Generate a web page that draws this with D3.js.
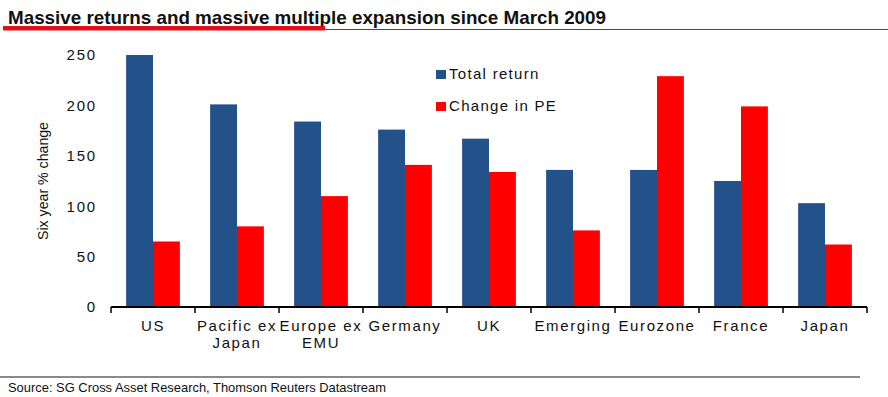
<!DOCTYPE html>
<html>
<head>
<meta charset="utf-8">
<script src="https://cdn.jsdelivr.net/npm/d3@7"></script>
<style>
  body { margin: 0; background: #fff; }
  svg text { font-family: "Liberation Sans", Arial, sans-serif; fill: #111; }
</style>
</head>
<body>
<div id="chart"></div>
<script>
// chart data
const categories = ["US", "Pacific ex\nJapan", "Europe ex\nEMU", "Germany", "UK", "Emerging", "Eurozone", "France", "Japan"];
const seriesNames = ["Total return", "Change in PE"];
const totalReturn = [250, 201, 184, 176, 167, 136, 136, 125, 103];
const changeInPE = [65, 80, 110, 141, 134, 76, 229, 199, 62];
const yTicks = [0, 50, 100, 150, 200, 250];
const colors = ["#23518a", "#ff0000"];

const width = 888, height = 397;
const margin = {top: 55, right: 21, bottom: 90, left: 111};

const svg = d3.select("#chart").append("svg")
    .attr("width", width)
    .attr("height", height);

// title + red rule
svg.append("text")
    .attr("x", 8).attr("y", 24)
    .attr("font-size", 19)
    .attr("font-weight", "bold")
    .attr("textLength", 598)
    .attr("lengthAdjust", "spacingAndGlyphs")
    .style("font-family", "'Liberation Sans Narrow', 'Liberation Sans', sans-serif")
    .text("Massive returns and massive multiple expansion since March 2009");

svg.append("line")
    .attr("x1", 325).attr("x2", 888).attr("y1", 29.5).attr("y2", 29.5)
    .attr("stroke", "#c8101a").attr("stroke-width", 1);
svg.append("rect")
    .attr("x", 3).attr("y", 26).attr("width", 322).attr("height", 4.5)
    .attr("fill", "#e0101a");

// scales
const x0 = d3.scaleBand()
    .domain(categories)
    .range([margin.left, width - margin.right]);

const x1 = d3.scaleBand()
    .domain(seriesNames)
    .range([x0.bandwidth() * 0.18, x0.bandwidth() * 0.82]);

const y = d3.scaleLinear()
    .domain([0, 250])
    .range([height - margin.bottom, margin.top]);

const rows = categories.map((c, i) => ({cat: c, values: [totalReturn[i], changeInPE[i]]}));

// bars
const groups = svg.append("g").selectAll("g")
    .data(rows)
    .join("g")
    .attr("transform", d => `translate(${x0(d.cat)},0)`);

groups.selectAll("rect")
    .data(d => d.values.map((v, k) => ({key: seriesNames[k], value: v, k: k})))
    .join("rect")
    .attr("x", d => x1(d.key))
    .attr("width", x1.bandwidth())
    .attr("y", d => y(d.value))
    .attr("height", d => y(0) - y(d.value))
    .attr("fill", d => colors[d.k]);

// y axis labels (no axis line)
const yAxis = svg.append("g")
    .attr("transform", `translate(${margin.left - 8},0)`)
    .call(d3.axisLeft(y).tickValues(yTicks).tickSize(0).tickPadding(6));
yAxis.select(".domain").remove();
yAxis.selectAll("text")
    .attr("font-size", 15)
    .style("letter-spacing", "1.8px")
    .style("font-family", "'Liberation Sans', Arial, sans-serif")
    .attr("fill", "#111");

// x axis with boundary ticks
const xAxis = svg.append("g")
    .attr("transform", `translate(0,${y(0)})`);
xAxis.append("line")
    .attr("x1", x0.range()[0]).attr("x2", x0.range()[1])
    .attr("stroke", "#000").attr("stroke-width", 2);
const bounds = categories.map(c => x0(c)).concat([x0.range()[1]]);
xAxis.selectAll(".tk")
    .data(bounds)
    .join("line")
    .attr("class", "tk")
    .attr("x1", d => d).attr("x2", d => d)
    .attr("y1", 0).attr("y2", 6)
    .attr("stroke", "#000").attr("stroke-width", 1.5);

xAxis.selectAll(".lbl")
    .data(categories)
    .join("text")
    .attr("class", "lbl")
    .attr("text-anchor", "middle")
    .attr("font-size", 15)
    .style("letter-spacing", "1.6px")
    .attr("transform", d => `translate(${x0(d) + x0.bandwidth() / 2},24)`)
    .each(function(d) {
        const lines = d.split("\n");
        d3.select(this).selectAll("tspan")
            .data(lines)
            .join("tspan")
            .attr("x", 0)
            .attr("dy", (l, i) => i === 0 ? 0 : 17)
            .text(l => l);
    });

// y axis title
svg.append("text")
    .attr("transform", `translate(48,${(y(0) + y(250)) / 2 + 0}) rotate(-90)`)
    .attr("text-anchor", "middle")
    .attr("font-size", 15)
    .attr("textLength", 118)
    .attr("lengthAdjust", "spacingAndGlyphs")
    .text("Six year % change");

// legend
const legend = svg.append("g")
    .attr("transform", "translate(436,70)");
const items = legend.selectAll("g")
    .data(seriesNames)
    .join("g")
    .attr("transform", (d, i) => `translate(0,${i * 32})`);
items.append("rect")
    .attr("width", 10).attr("height", 9)
    .attr("fill", (d, i) => colors[i]);
items.append("text")
    .attr("x", 13).attr("y", 9)
    .attr("font-size", 15)
    .style("letter-spacing", "1.3px")
    .text(d => d);

// source line
svg.append("line")
    .attr("x1", 0).attr("x2", 860).attr("y1", 377).attr("y2", 377)
    .attr("stroke", "#8a8a8a").attr("stroke-width", 2);
svg.append("text")
    .attr("x", 8).attr("y", 392)
    .attr("font-size", 13)
    .attr("textLength", 378)
    .attr("lengthAdjust", "spacingAndGlyphs")
    .style("font-family", "'Liberation Sans Narrow', 'Liberation Sans', sans-serif")
    .text("Source: SG Cross Asset Research, Thomson Reuters Datastream");
</script>
</body>
</html>
